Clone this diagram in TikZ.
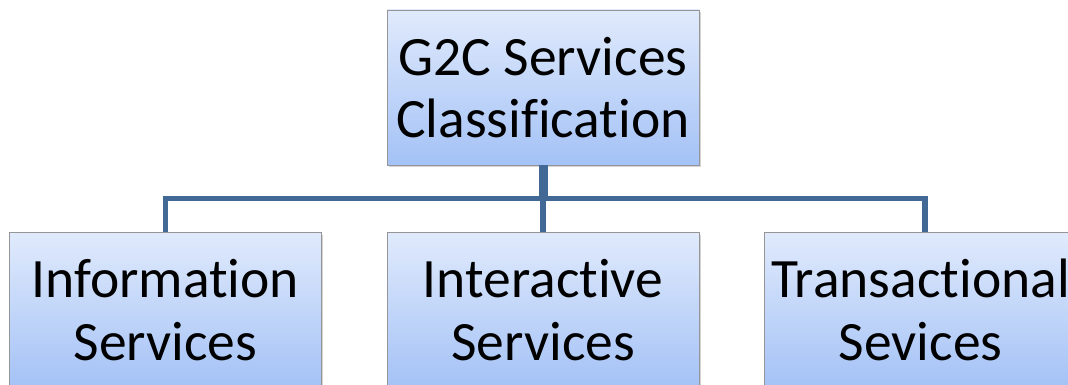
\documentclass[tikz,border=0pt]{standalone}
\usepackage{fontspec}
\setmainfont[Ligatures=NoCommon]{Carlito}
\usetikzlibrary{positioning, shadows}
\definecolor{boxTop}{RGB}{224,234,252}
\definecolor{boxBottom}{RGB}{164,194,246}
\definecolor{boxBorder}{RGB}{150,150,150}
\definecolor{busBlue}{RGB}{66,104,150}
\tikzstyle{classBox} = [shape=rectangle, draw=boxBorder, thin, text=black,
	align=center, top color=boxTop, bottom color=boxBottom,
	drop shadow={shadow xshift=0.05cm, shadow yshift=-0.05cm, opacity=0.35},
	font=\fontsize{39.5}{44.5}\selectfont]
\tikzstyle{ClassBox} = [classBox, minimum width=7.8cm, minimum height=3.875cm, inner sep=0pt]
\tikzstyle{busLine} = [line width=3.6pt, draw=busBlue]
\tikzstyle{stemLine} = [line width=6.4pt, draw=busBlue]

\begin{document}
\begin{tikzpicture}
  \useasboundingbox (0,0) rectangle (26.7,-9.625);
  \clip (0,0) rectangle (26.7,-9.625);
  \node (G2C) at (13.575,-2.1875) [ClassBox] {G2C Services\\Classification};
  \node (INTER) [ClassBox, below=1.675cm of G2C] {Interactive\\Services};
  \node (INFO) [ClassBox, left=1.625cm of INTER] {Information\\Services};
  \node (TRANS) [ClassBox, right=1.625cm of INTER] {Transactional\\Sevices};

  \path (G2C.south) -- (INTER.north) coordinate[pos=0.5] (bus);
  \draw [busLine] (INFO.north) |- (bus) -| ([xshift=0.11cm]TRANS.north);
  \draw [busLine] (bus) -- (INTER.north);
  \draw [stemLine] (G2C.south) -- (bus);
\end{tikzpicture}
\end{document}
